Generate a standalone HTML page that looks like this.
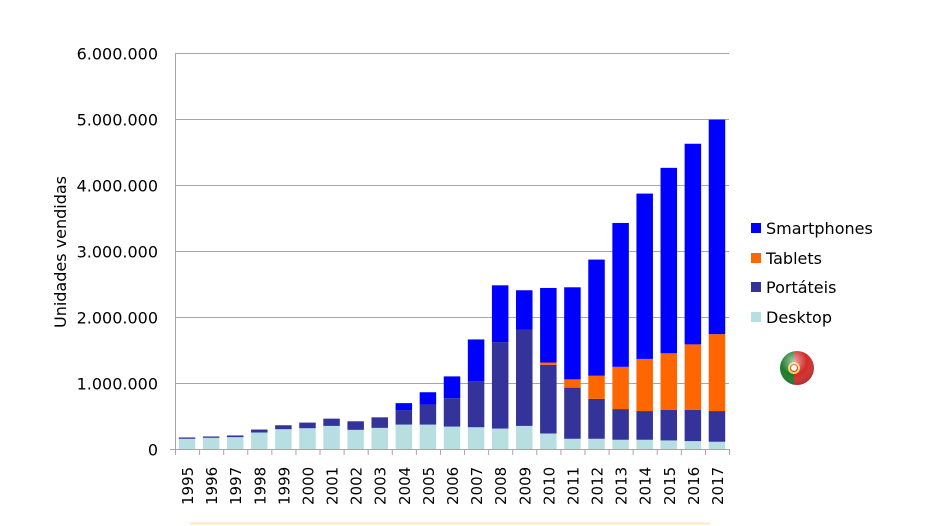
<!DOCTYPE html>
<html><head><meta charset="utf-8"><style>
html,body{margin:0;padding:0;background:#fff;}
svg{display:block;font-family:"DejaVu Sans","Liberation Sans",sans-serif;}
</style></head><body>
<svg id="chart" width="931" height="526" viewBox="0 0 931 526" xmlns="http://www.w3.org/2000/svg">
<g id="grid"></g>
<g id="bars"></g>
<g id="axes"></g>
<text transform="translate(66,252) rotate(-90)" text-anchor="middle" font-size="16" fill="#000">Unidades vendidas</text>
<g font-size="16" fill="#000">
<g><rect x="751" y="223" width="10" height="10" fill="#0000ff"/><text x="766" y="234">Smartphones</text></g>
<g><rect x="751" y="253" width="10" height="10" fill="#ff6600"/><text x="766" y="264">Tablets</text></g>
<g><rect x="751" y="282" width="10" height="10" fill="#333399"/><text x="766" y="293">Portáteis</text></g>
<g><rect x="751" y="312" width="10" height="10" fill="#b7dfe2"/><text x="766" y="323">Desktop</text></g>
</g>
<defs>
<radialGradient id="gl" cx="0.4" cy="0.3" r="0.8"><stop offset="0" stop-color="#fff" stop-opacity="0.6"/><stop offset="0.5" stop-color="#fff" stop-opacity="0"/><stop offset="1" stop-color="#000" stop-opacity="0.3"/></radialGradient>
<clipPath id="fc"><circle cx="797" cy="368" r="17"/></clipPath>
</defs>
<g>
<g clip-path="url(#fc)">
<rect x="780" y="351" width="14" height="34" fill="#1a7a2a"/>
<rect x="794" y="351" width="20" height="34" fill="#d22a2a"/>
<circle cx="794" cy="368" r="6" fill="#f2d23a"/>
<circle cx="794" cy="368" r="3.5" fill="#fff" stroke="#c22" stroke-width="1.2"/>
<circle cx="797" cy="368" r="17" fill="url(#gl)"/>
</g>
</g>
<line x1="190" y1="523.5" x2="710" y2="523.5" stroke="#fbe9c0" stroke-width="2"/>
</svg>
<script>
const years = ["1995","1996","1997","1998","1999","2000","2001","2002","2003","2004","2005","2006","2007","2008","2009","2010","2011","2012","2013","2014","2015","2016","2017"];
const desktop = [155000,170000,180000,250000,300000,315000,350000,290000,320000,370000,370000,340000,330000,310000,350000,235000,155000,155000,140000,140000,130000,120000,110000];
const portateis = [20000,20000,25000,45000,60000,85000,110000,130000,160000,220000,305000,430000,695000,1310000,1460000,1040000,775000,605000,465000,435000,465000,475000,465000];
const tablets = [0,0,0,0,0,0,0,0,0,0,0,0,0,0,0,35000,125000,350000,640000,790000,855000,990000,1165000];
const smartphones = [0,0,0,0,0,0,0,0,0,105000,185000,330000,635000,860000,595000,1130000,1395000,1760000,2180000,2505000,2810000,3040000,3250000];
const yTicks = [0,1000000,2000000,3000000,4000000,5000000,6000000];
const yTickLabels = ["0","1.000.000","2.000.000","3.000.000","4.000.000","5.000.000","6.000.000"];

const NS="http://www.w3.org/2000/svg";
const x0=175, x1=729, yBase=449, yTop=53, yMax=6000000;
const bw=(x1-x0)/years.length, barW=16.5;
function yScale(v){return yBase-(v/yMax)*(yBase-yTop);}
function xCenter(i){return x0+bw*(i+0.5);}
function mk(tag,attrs,parent){const e=document.createElementNS(NS,tag);for(const k in attrs)e.setAttribute(k,attrs[k]);parent.appendChild(e);return e;}
const grid=document.getElementById('grid'),bars=document.getElementById('bars'),axes=document.getElementById('axes');
yTicks.forEach((t,i)=>{
  const y=Math.round(yScale(t))+0.5;
  if(t>0){const l=mk('line',{x1:x0,x2:x1,y1:y,y2:y,stroke:'#a6a6a6','stroke-width':1},grid);
  
  }
  const tx=mk('text',{x:158,y:y+6,'text-anchor':'end','font-size':16,fill:'#000'},axes);
  tx.textContent=yTickLabels[i];
  
  
});
const series=[[desktop,'#b7dfe2','desktop'],[portateis,'#333399','portateis'],[tablets,'#ff6600','tablets'],[smartphones,'#0000ff','smartphones']];
years.forEach((yr,i)=>{
  let cum=0;
  series.forEach(([arr,col,nm])=>{
    const v=arr[i]; if(v<=0) return;
    const yT=yScale(cum+v), yB=yScale(cum);
    const r=mk('rect',{x:xCenter(i)-barW/2,y:yT,width:barW,height:yB-yT,fill:col},bars);
    
    
    cum+=v;
  });
  const tick=mk('line',{x1:x0+bw*i+0.5,x2:x0+bw*i+0.5,y1:yBase,y2:yBase+6,stroke:'#a6a6a6'},axes);
  
  
  const cx=xCenter(i)+6;
  const lab=mk('text',{x:0,y:0,transform:'translate('+cx+',505) rotate(-90)','font-size':15,fill:'#000'},axes);
  lab.textContent=yr;
  
  
});
const lt=mk('line',{x1:x1+0.5,x2:x1+0.5,y1:yBase,y2:yBase+6,stroke:'#a6a6a6'},axes);


const ya=mk('line',{x1:x0+0.5,x2:x0+0.5,y1:yTop,y2:yBase,stroke:'#a6a6a6'},axes);


const xa=mk('line',{x1:x0-5,x2:x1,y1:yBase+0.5,y2:yBase+0.5,stroke:'#a6a6a6'},axes);


</script>
</body></html>
